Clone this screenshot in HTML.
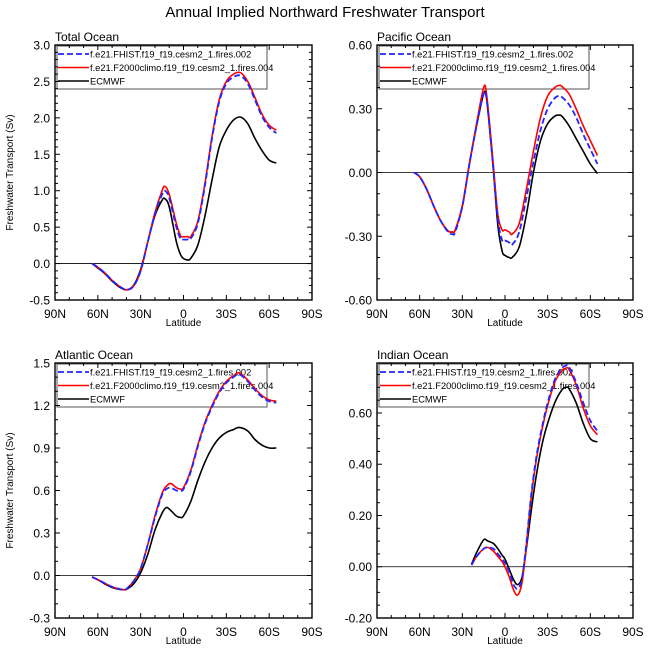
<!DOCTYPE html>
<html><head><meta charset="utf-8">
<style>
body{margin:0;background:#fff;}
svg{display:block;font-family:"Liberation Sans",Arial,sans-serif;}
</style></head>
<body>
<svg id="chart" width="649" height="662" viewBox="0 0 649 662" xmlns="http://www.w3.org/2000/svg">
<text x="325" y="17" font-size="15" text-anchor="middle">Annual Implied Northward Freshwater Transport</text>
</svg>
<script>
// ---- data ----
const xTickLabels = ["90N","60N","30N","0","30S","60S","90S"];
const xTickValues = [90,60,30,0,-30,-60,-90];
const legendLabels = ["f.e21.FHIST.f19_f19.cesm2_1.fires.002","f.e21.F2000climo.f19_f19.cesm2_1.fires.004","ECMWF"];

const totalLat = [64,60,55,50,45,40,35,30,25,20,15,13,10,5,2,0,-3,-5,-10,-15,-20,-25,-30,-35,-40,-45,-50,-55,-60,-65];
const totalBlue = [0,-0.05,-0.13,-0.23,-0.31,-0.36,-0.31,-0.1,0.3,0.68,0.95,1.0,0.9,0.5,0.34,0.33,0.33,0.34,0.55,1.07,1.72,2.22,2.47,2.56,2.58,2.47,2.25,2.02,1.87,1.79];
const totalRed = [0,-0.05,-0.13,-0.23,-0.31,-0.36,-0.31,-0.1,0.3,0.7,1.0,1.06,0.95,0.55,0.38,0.37,0.37,0.37,0.58,1.1,1.75,2.25,2.5,2.6,2.62,2.5,2.28,2.05,1.9,1.83];
const totalBlack = [0,-0.06,-0.14,-0.24,-0.32,-0.36,-0.3,-0.08,0.3,0.66,0.87,0.89,0.78,0.3,0.12,0.07,0.05,0.07,0.25,0.65,1.15,1.6,1.83,1.97,2.01,1.92,1.72,1.55,1.42,1.38];

const pacLat = [64,60,55,50,45,40,37,35,30,25,20,15,13,10,8,5,2,0,-3,-5,-10,-15,-20,-25,-30,-35,-38,-40,-45,-50,-55,-60,-65];
const pacBlue = [0,-0.02,-0.08,-0.16,-0.23,-0.28,-0.29,-0.28,-0.16,0.04,0.22,0.37,0.35,0.15,0.0,-0.22,-0.32,-0.32,-0.33,-0.34,-0.28,-0.12,0.05,0.2,0.3,0.35,0.36,0.355,0.32,0.26,0.18,0.11,0.04];
const pacRed = [0,-0.02,-0.08,-0.16,-0.23,-0.275,-0.28,-0.27,-0.155,0.045,0.23,0.40,0.37,0.17,0.02,-0.2,-0.27,-0.27,-0.28,-0.29,-0.24,-0.08,0.1,0.26,0.36,0.40,0.41,0.405,0.37,0.3,0.22,0.15,0.08];
const pacBlack = [0,-0.02,-0.08,-0.16,-0.23,-0.275,-0.28,-0.27,-0.16,0.04,0.22,0.37,0.35,0.15,0.0,-0.25,-0.37,-0.39,-0.40,-0.40,-0.35,-0.20,0,0.15,0.23,0.265,0.27,0.265,0.22,0.16,0.1,0.04,-0.005];

const atlLat = [64,60,55,50,45,42,40,35,30,25,20,15,12,9,5,2,0,-5,-10,-15,-20,-25,-30,-35,-39,-45,-50,-55,-60,-65];
const atlBlue = [-0.01,-0.03,-0.055,-0.08,-0.095,-0.10,-0.095,-0.04,0.05,0.22,0.41,0.57,0.61,0.62,0.60,0.60,0.61,0.73,0.91,1.07,1.19,1.29,1.36,1.40,1.42,1.37,1.31,1.26,1.23,1.22];
const atlRed = [-0.01,-0.03,-0.055,-0.08,-0.095,-0.10,-0.095,-0.04,0.05,0.22,0.42,0.58,0.63,0.65,0.62,0.61,0.62,0.74,0.92,1.08,1.2,1.3,1.37,1.41,1.43,1.38,1.32,1.27,1.24,1.23];
const atlBlack = [-0.01,-0.03,-0.06,-0.085,-0.098,-0.10,-0.098,-0.06,0.02,0.15,0.32,0.44,0.48,0.46,0.42,0.41,0.42,0.52,0.67,0.8,0.9,0.97,1.01,1.03,1.045,1.02,0.96,0.92,0.90,0.90];

const indLat = [23.5,20,15,12,8,5,2,0,-3,-6,-9,-12,-15,-18,-21,-24,-27,-30,-35,-40,-43,-45,-50,-55,-60,-65];
const indBlue = [0.007,0.04,0.07,0.075,0.07,0.05,0.03,0.015,-0.02,-0.07,-0.085,-0.045,0.09,0.26,0.39,0.49,0.57,0.64,0.73,0.775,0.785,0.78,0.72,0.64,0.57,0.53];
const indRed = [0.007,0.04,0.07,0.075,0.06,0.04,0.02,0.0,-0.04,-0.09,-0.11,-0.06,0.08,0.25,0.38,0.48,0.56,0.63,0.72,0.765,0.775,0.77,0.71,0.62,0.55,0.515];
const indBlack = [0.01,0.055,0.105,0.10,0.09,0.07,0.045,0.03,-0.01,-0.05,-0.07,-0.04,0.07,0.2,0.32,0.42,0.5,0.56,0.64,0.69,0.70,0.695,0.64,0.56,0.50,0.487];

const totalYTicks = ["-0.5","0.0","0.5","1.0","1.5","2.0","2.5","3.0"];
const pacYTicks = ["-0.60","-0.30","0.00","0.30","0.60"];
const atlYTicks = ["-0.3","0.0","0.3","0.6","0.9","1.2","1.5"];
const indYTicks = ["-0.20","0.00","0.20","0.40","0.60"];

// ---- drawing ----
const NS="http://www.w3.org/2000/svg";
const svg=document.getElementById('chart');
function mk(tag,attrs,parent){const e=document.createElementNS(NS,tag);for(const k in attrs)e.setAttribute(k,attrs[k]);(parent||svg).appendChild(e);return e;}

function smoothPath(pts){
  let d="M"+pts[0][0].toFixed(2)+","+pts[0][1].toFixed(2);
  for(let i=0;i<pts.length-1;i++){
    const p0=pts[Math.max(0,i-1)],p1=pts[i],p2=pts[i+1],p3=pts[Math.min(pts.length-1,i+2)];
    const c1=[p1[0]+(p2[0]-p0[0])/6,p1[1]+(p2[1]-p0[1])/6];
    const c2=[p2[0]-(p3[0]-p1[0])/6,p2[1]-(p3[1]-p1[1])/6];
    d+=" C"+c1[0].toFixed(2)+","+c1[1].toFixed(2)+" "+c2[0].toFixed(2)+","+c2[1].toFixed(2)+" "+p2[0].toFixed(2)+","+p2[1].toFixed(2);
  }
  return d;
}

function panel(cfg){
  const g=mk('g',{});
  
  
  const L=cfg.x0,R=cfg.x1,T=cfg.y0,B=cfg.y1;
  const xs=v=>L+(90-v)/180*(R-L);
  const ys=v=>B-(v-cfg.ymin)/(cfg.ymax-cfg.ymin)*(B-T);
  const t=mk('text',{x:L,y:T-4,'font-size':12},g);t.textContent=cfg.title;
  
  
  // legend (drawn first, transparent, so curves overlay it)
  const lg=mk('g',{},g);
  
  
  mk('rect',{x:L+2,y:T+1,width:210,height:43,fill:'none',stroke:'#555','stroke-width':1},lg);
  const cols=[['#2424ff','6 3',1.8],['#f00',null,1.6],['#000',null,1.6]];
  legendLabels.forEach((lb,i)=>{
    const y=T+9+i*13.5;
    const ln=mk('line',{x1:L+3,x2:L+34,y1:y,y2:y,stroke:cols[i][0],'stroke-width':cols[i][2]},lg);
    if(cols[i][1])ln.setAttribute('stroke-dasharray',cols[i][1]);
    
    
    const tt=mk('text',{x:L+35,y:y+3.5,'font-size':9.3},lg);tt.textContent=lb;
    
    
  });
  const z=mk('line',{x1:L,x2:R,y1:ys(0),y2:ys(0),stroke:'#000','stroke-width':0.8},g);
  
  
  const series=[[cfg.black,'#000',1.6,null,'ecmwf-line'],[cfg.red,'#f00',1.6,null,'f2000climo-line'],[cfg.blue,'#2424ff',1.8,'6 3','fhist-line']];
  series.forEach(s=>{
    const pts=cfg.lat.map((la,i)=>[xs(la),ys(s[0][i])]);
    const p=mk('path',{d:smoothPath(pts),fill:'none',stroke:s[1],'stroke-width':s[2]},g);
    if(s[3])p.setAttribute('stroke-dasharray',s[3]);
    
    
  });
  const f=mk('rect',{x:L,y:T,width:R-L,height:B-T,fill:'none',stroke:'#000','stroke-width':1.4},g);
  
  
  for(let v=90;v>=-90;v-=10){
    const major=v%30===0, len=major?5:3, x=xs(v);
    mk('line',{x1:x,x2:x,y1:B,y2:B-len,stroke:'#000','stroke-width':1},g);
    mk('line',{x1:x,x2:x,y1:T,y2:T+len,stroke:'#000','stroke-width':1},g);
  }
  xTickValues.forEach((v,i)=>{
    const tx=mk('text',{x:xs(v),y:B+18,'font-size':12,'text-anchor':'middle'},g);tx.textContent=xTickLabels[i];
    
    
  });
  const xl=mk('text',{x:(L+R)/2,y:B+26,'font-size':10,'text-anchor':'middle'},g);xl.textContent='Latitude';
  
  
  const start=Math.ceil(cfg.ymin/cfg.minor-1e-6);
  for(let k=start;k*cfg.minor<=cfg.ymax+1e-9;k++){
    const v=k*cfg.minor;
    const major=Math.abs(Math.round((v-cfg.yTickStart)/cfg.major)*cfg.major-(v-cfg.yTickStart))<1e-6;
    const len=major?5:3,y=ys(v);
    mk('line',{x1:L,x2:L+len,y1:y,y2:y,stroke:'#000','stroke-width':1},g);
    mk('line',{x1:R,x2:R-len,y1:y,y2:y,stroke:'#000','stroke-width':1},g);
  }
  cfg.yTicks.forEach(lbl=>{
    const v=parseFloat(lbl);
    const ty=mk('text',{x:L-5,y:ys(v)+4.5,'font-size':12,'text-anchor':'end'},g);ty.textContent=lbl;
    
    
  });
  if(cfg.ytitle){
    const cy=(T+B)/2;
    const yt=mk('text',{x:13,y:cy,'font-size':10,'text-anchor':'middle',transform:'rotate(-90 13 '+cy+')'},g);yt.textContent='Freshwater Transport (Sv)';
    
    
  }
}

panel({name:'total-ocean-panel',title:'Total Ocean',x0:55,x1:312,y0:45,y1:300,ymin:-0.5,ymax:3.0,major:0.5,minor:0.1,yTickStart:-0.5,yTicks:totalYTicks,lat:totalLat,blue:totalBlue,red:totalRed,black:totalBlack,ytitle:true});
panel({name:'pacific-ocean-panel',title:'Pacific Ocean',x0:377,x1:633,y0:45,y1:300,ymin:-0.6,ymax:0.6,major:0.3,minor:0.1,yTickStart:-0.6,yTicks:pacYTicks,lat:pacLat,blue:pacBlue,red:pacRed,black:pacBlack,ytitle:false});
panel({name:'atlantic-ocean-panel',title:'Atlantic Ocean',x0:55,x1:312,y0:363,y1:618,ymin:-0.3,ymax:1.5,major:0.3,minor:0.1,yTickStart:-0.3,yTicks:atlYTicks,lat:atlLat,blue:atlBlue,red:atlRed,black:atlBlack,ytitle:true});
panel({name:'indian-ocean-panel',title:'Indian Ocean',x0:377,x1:633,y0:363,y1:618,ymin:-0.2,ymax:0.795,major:0.2,minor:0.05,yTickStart:-0.2,yTicks:indYTicks,lat:indLat,blue:indBlue,red:indRed,black:indBlack,ytitle:false});
</script>
</body></html>
